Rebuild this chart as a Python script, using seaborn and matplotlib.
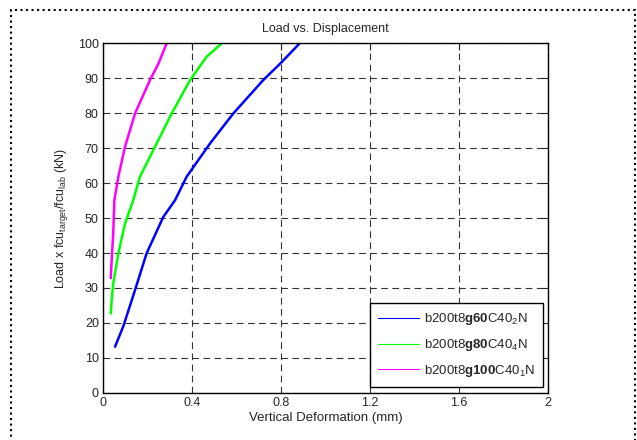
import pandas as pd
import seaborn as sns
import matplotlib.pyplot as plt
from matplotlib.patches import Rectangle

# values
g60_x = [0.054, 0.091, 0.144, 0.196, 0.271, 0.324, 0.376, 0.481, 0.586, 0.72, 0.796, 0.84, 0.885]
g60_y = [13.2, 19.0, 29.4, 39.9, 50.3, 55.1, 61.8, 71.3, 79.9, 89.4, 94.1, 97.0, 100.0]
g80_x = [0.035, 0.039, 0.046, 0.069, 0.099, 0.136, 0.166, 0.241, 0.309, 0.391, 0.466, 0.533]
g80_y = [22.7, 26.6, 31.3, 39.9, 48.4, 55.1, 61.8, 71.3, 79.9, 89.4, 96.1, 99.9]
g100_x = [0.035, 0.039, 0.046, 0.051, 0.069, 0.099, 0.144, 0.211, 0.249, 0.286]
g100_y = [32.8, 37.9, 45.6, 55.1, 61.8, 70.4, 79.9, 89.4, 94.1, 99.9]

labels = [r"b200t8$\mathbf{g60}$C40$_2$N",
          r"b200t8$\mathbf{g80}$C40$_4$N",
          r"b200t8$\mathbf{g100}$C40$_1$N"]
colors = ["#0000ff", "#00ff00", "#ff00ff"]

frames = []
for lab, xs, ys in zip(labels, [g60_x, g80_x, g100_x], [g60_y, g80_y, g100_y]):
    frames.append(pd.DataFrame({"x": xs, "y": ys, "series": lab}))
df = pd.concat(frames, ignore_index=True)

sns.set_style("white")
plt.rcParams["font.family"] = ["Liberation Sans", "DejaVu Sans"]
plt.rcParams["mathtext.fontset"] = "custom"
plt.rcParams["mathtext.rm"] = "Liberation Sans"
plt.rcParams["mathtext.bf"] = "Liberation Sans:bold"
plt.rcParams["mathtext.it"] = "Liberation Sans"

fig = plt.figure(figsize=(6.37, 4.4), dpi=100)
ax = fig.add_axes([0.1617, 0.107, 0.860 - 0.1617, 0.902 - 0.107])

sns.lineplot(data=df, x="x", y="y", hue="series", palette=colors, sort=False,
             estimator=None, units="series", linewidth=1.8, ax=ax, legend=False)

ax.set_xlim(0, 2)
ax.set_ylim(0, 100)
ax.set_xticks([0, 0.4, 0.8, 1.2, 1.6, 2])
ax.set_xticklabels(["0", "0.4", "0.8", "1.2", "1.6", "2"])
ax.set_yticks(range(0, 101, 10))
ax.grid(True, color="#333333", linestyle=(0, (6, 4)), linewidth=0.8)
ax.tick_params(direction="in", length=5, top=True, right=True, labelsize=9, pad=3, width=0.8)
for s in ax.spines.values():
    s.set_color("black")
    s.set_linewidth(1.0)

ax.set_title("Load vs. Displacement", fontsize=9, pad=8)
ax.set_xlabel("Vertical Deformation (mm)", fontsize=9.5, labelpad=2)
ax.set_ylabel(r"Load x fcu$_{target}$/fcu$_{lab}$ (kN)", fontsize=9, labelpad=6)

handles = [plt.Line2D([], [], color=c, linewidth=0.8) for c in colors]
leg = ax.legend(handles, labels, loc="lower right", bbox_to_anchor=(0.989, 0.017),
                borderaxespad=0, fontsize=9.5, frameon=True, fancybox=False, framealpha=1,
                edgecolor="black", handlelength=3.1, handletextpad=0.35,
                borderpad=0.6, labelspacing=0.75)
leg.get_frame().set_linewidth(1.0)

fig.patches.append(Rectangle((0.017, -0.02), 0.98, 0.997, transform=fig.transFigure,
                             fill=False, linestyle=":", linewidth=1.5, edgecolor="black"))

fig.savefig("out.png", dpi=100)
